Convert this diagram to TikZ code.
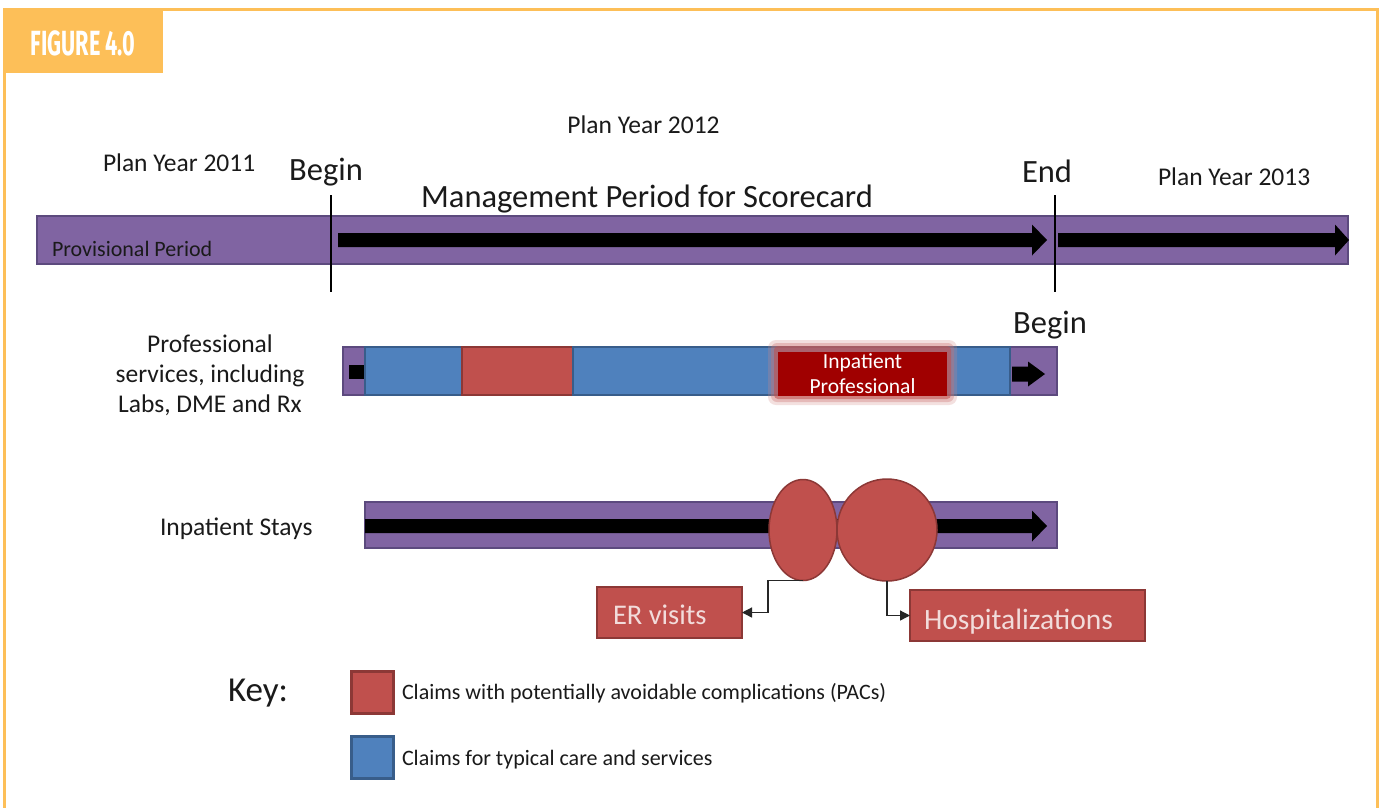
\documentclass[tikz,border=0pt]{standalone}
\usepackage{fontspec}
\setmainfont{Carlito}
\newfontfamily\figfont{Fira Sans}
\usetikzlibrary{arrows.meta,shapes.geometric}
\definecolor{orng}{HTML}{FDBF58}
\definecolor{pur}{HTML}{8064A2}
\definecolor{purD}{HTML}{5C4A7E}
\definecolor{blu}{HTML}{4F81BD}
\definecolor{bluD}{HTML}{385D8A}
\definecolor{rd}{HTML}{C0504D}
\definecolor{rdD}{HTML}{8C3836}
\definecolor{drd}{HTML}{A00000}
\definecolor{txt}{HTML}{1A1A1A}
\definecolor{pinktxt}{HTML}{F2DCDB}
% block arrow: x1, x2(tip), yc, head start, shaft half, head half
\newcommand\blkarrow[6]{%
  \fill[black] (#1,#3-#5) -- (#4,#3-#5) -- (#4,#3-#6) -- (#2,#3) -- (#4,#3+#6) -- (#4,#3+#5) -- (#1,#3+#5) -- cycle;}
\tikzset{
  purbar/.style={fill=pur, draw=purD, line width=1.5pt},
  bluebar/.style={fill=blu, draw=bluD, line width=1.5pt},
  redbar/.style={fill=rd, draw=rdD, line width=1.5pt},
  redbox/.style={fill=rd, draw=rdD, line width=1.5pt, rectangle},
  keybox/.style={rectangle, line width=3pt, minimum width=42pt, minimum height=42pt},
  conn/.style={draw=black!85, line width=1.3pt, -{Triangle[length=10pt,width=10pt]}},
  lbl/.style={font=\fontsize{25.5}{30}\selectfont},
  big/.style={font=\fontsize{32.5}{32}\selectfont},
  vline/.style={draw=black, line width=2.5pt},
}
\begin{document}
\begin{tikzpicture}[x=1pt,y=-1pt, every node/.style={inner sep=0pt, outer sep=0pt, text=txt}]
\useasboundingbox (0,0) rectangle (1381,807);
\fill[white] (0,0) rectangle (1381,807);
% frame
\draw[orng, line width=3.5pt] (4.5,812) -- (4.5,9.5) -- (1377.5,9.5) -- (1377.5,812);
\fill[orng] (3,8) rectangle (163,73);
\node[text=white, font=\figfont\bfseries\fontsize{35}{35}\selectfont] (fig) at (83,43) {\scalebox{0.62}[1]{FIGURE 4.0}};
% header texts
\node[lbl, anchor=base] (py12) at (643.5,133) {Plan Year 2012};
\node[lbl, anchor=base west] (py11) at (103,171) {Plan Year 2011};
\node[big, anchor=base] (beg1) at (326,180) {Begin};
\node[big, anchor=base] (mgmt) at (647,207) {Management Period for Scorecard};
\node[big, anchor=base] (end) at (1047,182) {End};
\node[lbl, anchor=base west] (py13) at (1158,185) {Plan Year 2013};
% top bar
\draw[purbar] (37,216) rectangle (331,264);
\draw[purbar] (331,216) rectangle (1055,264);
\draw[purbar] (1055,216) rectangle (1348,264);
\blkarrow{338}{1047}{240}{1032}{7}{15.5}
\blkarrow{1058}{1349}{240}{1335}{7}{15.5}
\node[anchor=base west, font=\fontsize{22}{22}\selectfont] (prov) at (52,256) {Provisional Period};
\draw[vline] (331,195) -- (331,292);
\draw[vline] (1055,195) -- (1055,292);
% professional services bar
\node[big, anchor=base] (beg2) at (1050,333) {Begin};
\node[lbl, align=center, anchor=north] (prof) at (210,335) {Professional\\services, including\\Labs, DME and Rx};
\draw[purbar] (343,347) rectangle (1057,395);
\fill[black] (349,365) rectangle (364,379);
\draw[bluebar] (365,347) rectangle (462,395);
\draw[redbar] (462,347) rectangle (573,395);
\draw[bluebar] (573,347) rectangle (1010,395);
\blkarrow{1012}{1045}{374}{1028}{7.5}{12.5}
\fill[rd!70, opacity=0.25, rounded corners=8pt] (768,340) rectangle (957,405);
\fill[rd!80, opacity=0.35, rounded corners=6pt] (771,343) rectangle (954,402);
\fill[rd, opacity=0.55, rounded corners=4pt] (774,346) rectangle (951,399);
\node[fill=drd, minimum width=169pt, minimum height=44pt, text=white, align=center,
      font=\fontsize{21.5}{25}\selectfont] (ip) at (862.5,374) {Inpatient\\Professional};
% inpatient stays
\node[lbl, anchor=base west] (ins) at (160,535) {Inpatient Stays};
\draw[purbar] (365,502) rectangle (1057,548);
\blkarrow{365}{1047}{526}{1032}{7}{15.5}
\node[ellipse, fill=rd, draw=rdD, line width=1.5pt, minimum width=68pt, minimum height=101pt] (e1) at (803,530) {};
\node[ellipse, fill=rd, draw=rdD, line width=1.5pt, minimum width=100pt, minimum height=102pt] (e2) at (887,530) {};
\node[redbox, minimum width=145pt, minimum height=51pt] (er) at (669.5,612.5) {};
\node[anchor=base west, text=pinktxt, font=\fontsize{28.5}{28}\selectfont] (ert) at (613,624) {ER visits};
\node[redbox, minimum width=235pt, minimum height=51pt] (hosp) at (1027.5,615.5) {};
\node[anchor=base west, text=pinktxt, font=\fontsize{29.5}{28}\selectfont] (hospt) at (924,629) {Hospitalizations};
\draw[conn] (e1.south) -- ++(-35,0) |- (er.east);
\draw[conn] (e2.south) |- (hosp.west);
% key
\node[anchor=base west, font=\fontsize{35}{35}\selectfont] (key) at (228,701) {Key:};
\node[keybox, fill=rd, draw=rdD] (k1) at (372.5,692.5) {};
\node[keybox, fill=blu, draw=bluD] (k2) at (372.5,757.5) {};
\node[anchor=base west, font=\fontsize{22}{22}\selectfont] (k1t) at (402,699) {Claims with potentially avoidable complications (PACs)};
\node[anchor=base west, font=\fontsize{22}{22}\selectfont] (k2t) at (402,765) {Claims for typical care and services};
\end{tikzpicture}
\end{document}
